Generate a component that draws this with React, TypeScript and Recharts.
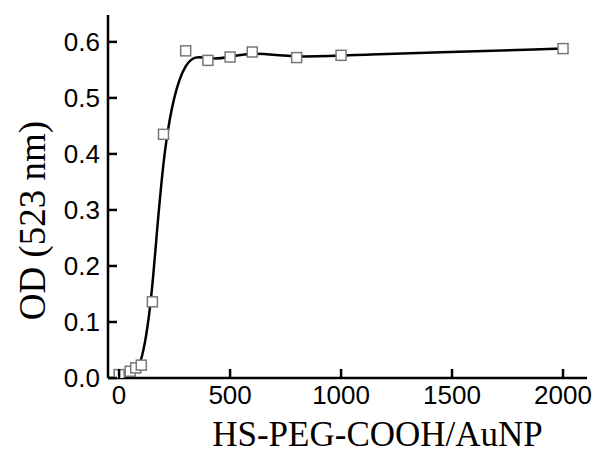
import React from "react";
import { LineChart, Line, XAxis, YAxis, Label } from "recharts";

// HS-PEG-COOH / AuNP ratio vs optical density at 523 nm
const ratio = [0, 50, 75, 100, 150, 200, 300, 400, 500, 600, 800, 1000, 2000];
const od = [0.006, 0.012, 0.018, 0.023, 0.136, 0.435, 0.584, 0.567, 0.573, 0.582, 0.572, 0.576, 0.588];
const xTicks = [0, 500, 1000, 1500, 2000];
const yTicks = [0, 0.1, 0.2, 0.3, 0.4, 0.5, 0.6];

const data = ratio.map((r, i) => ({ ratio: r, od: od[i] }));

const GAP = 8;
const TICK_LEN = 9;
const tickFont = { fontFamily: "'Liberation Sans', Arial, sans-serif", fontSize: 26, fill: "#000" };
const titleFont = { fontFamily: "'Liberation Serif', 'Times New Roman', serif", fontSize: 35, fill: "#000" };

const YTick = (props: any) => {
  const { x, y, payload } = props;
  return (
    <g>
      <line x1={x + GAP} x2={x + GAP + TICK_LEN} y1={y} y2={y} stroke="#000" strokeWidth={2.5} />
      <text x={x} y={y} dy="0.355em" textAnchor="end" {...tickFont}>
        {Number(payload.value).toFixed(1)}
      </text>
    </g>
  );
};

const XTick = (props: any) => {
  const { x, y, payload } = props;
  return (
    <g>
      <line x1={x} x2={x} y1={y - GAP} y2={y - GAP - TICK_LEN} stroke="#000" strokeWidth={2.5} />
      <text x={x} y={y} dy="0.71em" textAnchor="middle" {...tickFont}>
        {payload.value}
      </text>
    </g>
  );
};

const SquareDot = (props: any) => {
  const { cx, cy, index } = props;
  if (cx == null || cy == null) return null;
  return (
    <rect key={`sq-${index}`} x={cx - 5} y={cy - 5} width={10} height={10} fill="#fff" stroke="#777" strokeWidth={1.5} />
  );
};

const YTitle = (props: any) => {
  const { viewBox } = props;
  const cx = viewBox.x + 32;
  const cy = viewBox.y + viewBox.height / 2 + 24;
  return (
    <text x={cx} y={cy} transform={`rotate(-90, ${cx}, ${cy})`} textAnchor="middle" dy="0.35em" {...titleFont} fontSize={37}>
      OD (523 nm)
    </text>
  );
};

export default function App() {
  return (
    <div style={{ position: "absolute", left: 0, top: 0, background: "#fff" }}>
      <LineChart width={597} height={455} data={data} margin={{ top: 15, right: 10, bottom: 0, left: 0 }}>
        <XAxis
          dataKey="ratio"
          type="number"
          domain={[-50, 2108]}
          ticks={xTicks}
          allowDataOverflow
          height={77}
          tickSize={0}
          tickMargin={GAP}
          tickLine={false}
          tick={<XTick />}
          axisLine={{ stroke: "#000", strokeWidth: 2.5 }}
        >
          <Label value="HS-PEG-COOH/AuNP" position="insideBottom" offset={9} dx={30} style={titleFont} />
        </XAxis>
        <XAxis
          xAxisId="top"
          orientation="top"
          dataKey="ratio"
          type="number"
          domain={[-50, 2108]}
          height={0}
          tick={false}
          tickLine={false}
          axisLine={{ stroke: "#000", strokeWidth: 2.5 }}
        />
        <YAxis
          type="number"
          domain={[0, 0.648]}
          ticks={yTicks}
          allowDataOverflow
          width={108}
          tickSize={0}
          tickMargin={GAP}
          tickLine={false}
          tick={<YTick />}
          axisLine={{ stroke: "#000", strokeWidth: 2.5 }}
        >
          <Label content={<YTitle />} />
        </YAxis>
        <YAxis
          yAxisId="right"
          orientation="right"
          domain={[0, 0.648]}
          width={0}
          tick={false}
          tickLine={false}
          axisLine={{ stroke: "#000", strokeWidth: 2.5 }}
        />
        <Line
          type="basis"
          dataKey="od"
          stroke="#000"
          strokeWidth={2.5}
          dot={false}
          activeDot={false}
          isAnimationActive={false}
        />
        <Line
          dataKey="od"
          stroke="none"
          dot={<SquareDot />}
          activeDot={false}
          isAnimationActive={false}
        />
      </LineChart>
    </div>
  );
}
